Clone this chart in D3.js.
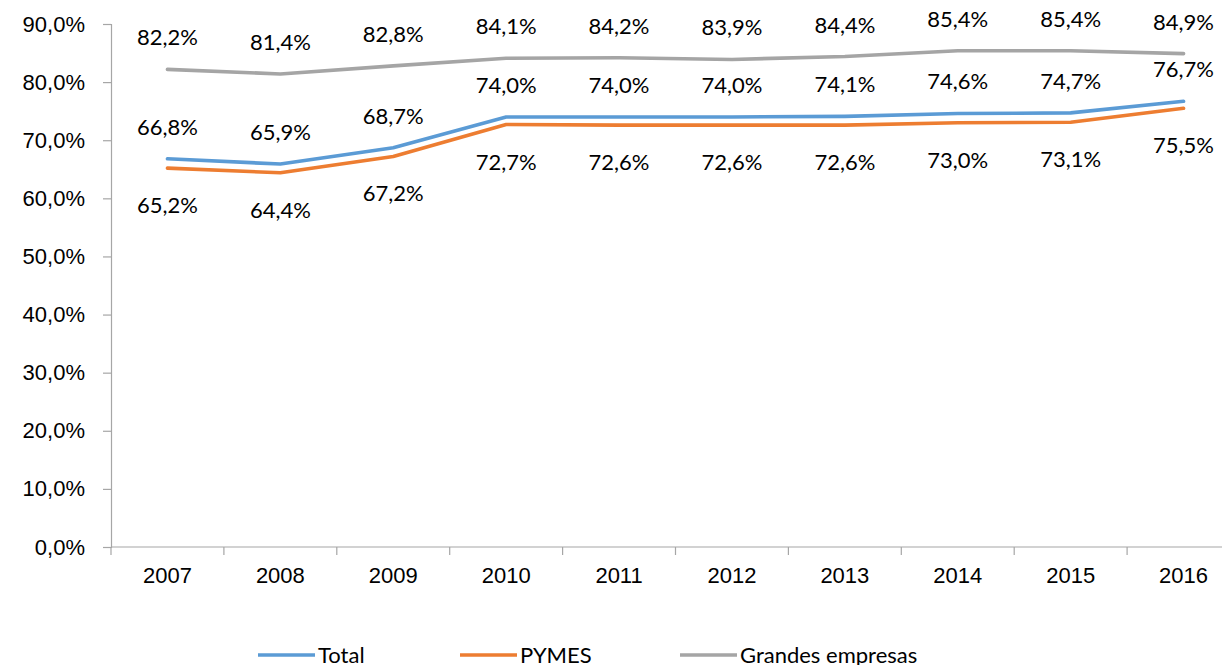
<!DOCTYPE html>
<html>
<head>
<meta charset="utf-8">
<script src="https://cdn.jsdelivr.net/npm/d3@7"></script>
<style>
  body { margin: 0; background: #fff; }
  svg { display: block; font-family: Lato, "Open Sans", sans-serif; }
  .axis text { font-size: 22px; fill: #000; }
  .lbl { font-size: 22px; fill: #000; text-anchor: middle; }
</style>
</head>
<body>
<svg id="chart" width="1222" height="665"></svg>
<script>
const years = ["2007", "2008", "2009", "2010", "2011", "2012", "2013", "2014", "2015", "2016"];
const total = [66.8, 65.9, 68.7, 74.0, 74.0, 74.0, 74.1, 74.6, 74.7, 76.7];
const pymes = [65.2, 64.4, 67.2, 72.7, 72.6, 72.6, 72.6, 73.0, 73.1, 75.5];
const grandes = [82.2, 81.4, 82.8, 84.1, 84.2, 83.9, 84.4, 85.4, 85.4, 84.9];
const yTicks = [0, 10, 20, 30, 40, 50, 60, 70, 80, 90];

const seriesNames = ["Total", "PYMES", "Grandes empresas"];
const seriesColors = ["#5B9BD5", "#ED7D31", "#A5A5A5"];

const svg = d3.select("#chart");
const axisColor = "#a6a6a6";

// plot area (right side runs past the window, like the original crop)
const x = d3.scaleBand().domain(years).range([111, 111 + 10 * 112.9]).padding(0);
const y = d3.scaleLinear().domain([0, 90]).range([547, 24]);

const fmt = v => d3.format(".1f")(v).replace(".", ",") + "%";

// y axis
const yAxis = svg.append("g")
  .attr("class", "axis")
  .attr("transform", "translate(111,0)")
  .call(d3.axisLeft(y).tickValues(yTicks).tickSize(8).tickPadding(18).tickFormat(fmt));
yAxis.select(".domain").attr("stroke", axisColor).attr("stroke-width", 1.2);
yAxis.selectAll(".tick line").attr("stroke", axisColor).attr("stroke-width", 1.2);

// x axis: line + ticks between categories
svg.append("line")
  .attr("x1", 111).attr("x2", x.range()[1])
  .attr("y1", y(0)).attr("y2", y(0))
  .attr("stroke", axisColor).attr("stroke-width", 1.2);
svg.append("g").selectAll("line")
  .data(years)
  .join("line")
  .attr("x1", d => x(d)).attr("x2", d => x(d))
  .attr("y1", y(0)).attr("y2", y(0) + 8)
  .attr("stroke", axisColor).attr("stroke-width", 1.2);

const xAxis = svg.append("g")
  .attr("class", "axis")
  .attr("transform", `translate(0,${y(0)})`)
  .call(d3.axisBottom(x).tickSize(0).tickPadding(20));
xAxis.select(".domain").remove();

const cx = d => x(d) + x.bandwidth() / 2;

const series = [
  { name: seriesNames[0], values: total, color: seriesColors[0], dy: -24 },
  { name: seriesNames[1], values: pymes, color: seriesColors[1], dy: 45 },
  { name: seriesNames[2], values: grandes, color: seriesColors[2], dy: -24 }
];

const line = d3.line()
  .x((d, i) => cx(years[i]))
  .y(d => y(d));

// draw grey first, then orange, then blue on top
[series[2], series[1], series[0]].forEach(s => {
  svg.append("path")
    .datum(s.values)
    .attr("d", line)
    .attr("fill", "none")
    .attr("stroke", s.color)
    .attr("stroke-width", 3.6)
    .attr("stroke-linejoin", "round")
    .attr("stroke-linecap", "round");
});

series.forEach(s => {
  svg.append("g").selectAll("text")
    .data(s.values)
    .join("text")
    .attr("class", "lbl")
    .attr("x", (d, i) => cx(years[i]))
    .attr("y", d => y(d) + s.dy)
    .text(fmt);
});

// legend
const legendX = [258, 460, 680];
const legend = svg.append("g");
series.forEach((s, i) => {
  legend.append("line")
    .attr("x1", legendX[i]).attr("x2", legendX[i] + 57)
    .attr("y1", 655).attr("y2", 655)
    .attr("stroke", s.color).attr("stroke-width", 3.6);
  legend.append("text")
    .attr("x", legendX[i] + 60)
    .attr("y", 663)
    .style("font-size", "22px")
    .text(s.name);
});
</script>
</body>
</html>
